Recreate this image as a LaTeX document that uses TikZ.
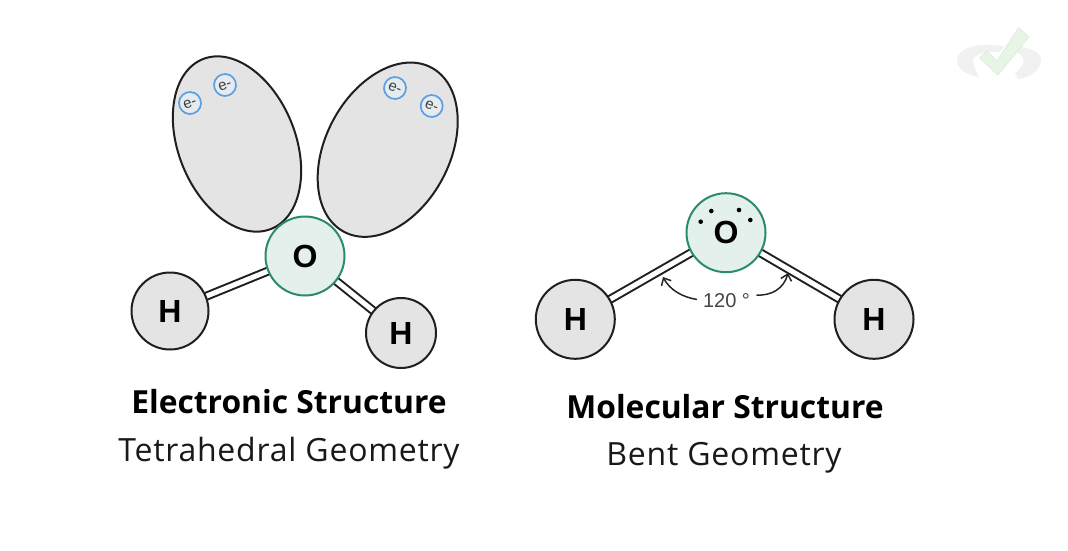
\documentclass[tikz,border=0pt]{standalone}
\usepackage{fontspec}
\setmainfont{Open Sans}
\newfontfamily\subfont[LetterSpace=2.4]{Open Sans}
\newfontfamily\atomfont{Liberation Sans}
\usetikzlibrary{shapes.geometric,arrows.meta}
\definecolor{lobe}{HTML}{E4E4E4}
\definecolor{oxyfill}{HTML}{E3F0EC}
\definecolor{oxyline}{HTML}{2C8A70}
\definecolor{elec}{HTML}{5B9FE3}
\definecolor{elecin}{HTML}{E6EBF0}
\definecolor{labelgrey}{HTML}{444444}
\definecolor{swoosh}{HTML}{F1F1F1}
\definecolor{tickfill}{HTML}{E6F5E4}
\definecolor{tickline}{HTML}{DCEADC}
\tikzset{
  x=1pt,y=-1pt,
  lobeshape/.style={ellipse,draw=black!88,line width=2pt,fill=lobe,inner sep=0pt,outer sep=0pt},
  hatom/.style={circle,draw=black!88,line width=2pt,fill=lobe,inner sep=0pt,font=\atomfont\fontsize{32}{32}\selectfont\bfseries,text=black},
  oatom/.style={circle,draw=oxyline,line width=2pt,fill=oxyfill,inner sep=0pt,minimum size=79pt,font=\atomfont\fontsize{32}{32}\selectfont\bfseries,text=black},
  electron/.style={circle,draw=elec,line width=1.7pt,fill=elecin,inner sep=0pt,minimum size=22pt,font=\atomfont\fontsize{15}{15}\selectfont,text=black!75},
  bond/.style={double=white,double distance=5pt,line width=2pt,draw=black!88},
  lonepair/.style={circle,fill=black,inner sep=0pt,minimum size=4.6pt},
  anglearrow/.style={draw=black!85,line width=1.5pt,-{Straight Barb[length=6pt,width=11pt]}},
  title/.style={font=\fontsize{31.8}{32}\selectfont\bfseries,text=black},
  subtitle/.style={font=\subfont\fontsize{32}{32}\selectfont,text=black!90}
}
\begin{document}
\begin{tikzpicture}
\useasboundingbox (0,0) rectangle (1068,550);
\fill[white] (0,0) rectangle (1068,550);
% watermark
\fill[swoosh] (979,77) .. controls (966,75) and (956,68) .. (957,59)
  .. controls (958,50) and (972,44) .. (990,45) -- (1004,46) -- (1000,52)
  .. controls (985,51) and (973,55) .. (973,61) .. controls (973,67) and (977,71) .. (979,77) -- cycle;
\fill[swoosh] (1015,73) .. controls (1022,68) and (1025,63) .. (1023,58)
  .. controls (1021,54) and (1017,52) .. (1012,51) -- (1017,46)
  .. controls (1032,48) and (1041,53) .. (1041,60)
  .. controls (1041,70) and (1030,78) .. (1018,79) -- cycle;
\filldraw[fill=tickfill,draw=tickline,line width=.6pt] (979.5,58) -- (987,51) -- (997,61) -- (1018.5,27.5) -- (1029,37) -- (998,75) -- cycle;
% left molecule
\node[lobeshape,minimum width=117pt,minimum height=183pt,rotate=22] (lobeA) at (237,144) {};
\node[lobeshape,minimum width=124pt,minimum height=186pt,rotate=-28] (lobeB) at (387.7,149.7) {};
\node[electron,rotate=20] (e1) at (190,103) {e-};
\node[electron,rotate=20] (e2) at (225,85) {e-};
\node[electron,rotate=-20] (e3) at (395,88) {e-};
\node[electron,rotate=-20] (e4) at (431.7,106) {e-};
\coordinate (Ocen) at (305,256);
\coordinate (H1cen) at (170,311);
\coordinate (H2cen) at (401,333);
\draw[bond] (Ocen) -- (H1cen);
\draw[bond] (Ocen) -- (H2cen);
\node[oatom] (O1) at (Ocen) {\raisebox{-2pt}{O}};
\node[hatom,minimum size=77pt] (H1) at (H1cen) {\raisebox{-2pt}{H}};
\node[hatom,minimum size=70pt] (H2) at (H2cen) {\raisebox{-1pt}{H}};
% right molecule
\coordinate (Pcen) at (726,232.7);
\coordinate (H3cen) at (575.3,319.3);
\coordinate (H4cen) at (874,319.3);
\draw[bond] (Pcen) -- (H3cen);
\draw[bond] (Pcen) -- (H4cen);
\node[oatom] (O2) at (Pcen) {\raisebox{-2.5pt}{O}};
\node[hatom,minimum size=79pt] (H3) at (H3cen) {\raisebox{-1pt}{H}};
\node[hatom,minimum size=79pt] (H4) at (H4cen) {\raisebox{-1pt}{H}};
\node[lonepair] (d1) at (700.7,221.7) {};
\node[lonepair] (d2) at (711.3,211) {};
\node[lonepair] (d3) at (739,210) {};
\node[lonepair] (d4) at (750.3,220) {};
\node[font=\atomfont\fontsize{20}{20}\selectfont,text=labelgrey,inner sep=0pt] (angle) at (726.5,301) {120 °};
\coordinate (tipL) at (663,277);
\coordinate (tipR) at (788,273);
\coordinate (startL) at (697,299.5);
\coordinate (startR) at (756.5,295);
\draw[anglearrow] (startL) .. controls (682,297) and (670,290) .. (tipL);
\draw[anglearrow] (startR) .. controls (772,296) and (784,288) .. (tipR);
% captions
\node[title] (t1) at (289,401.5) {Electronic Structure};
\node[subtitle] (t2) at (289,453) {Tetrahedral Geometry};
\node[title] (t3) at (725,406.5) {Molecular Structure};
\node[subtitle] (t4) at (724,458) {Bent Geometry};
\end{tikzpicture}
\end{document}
